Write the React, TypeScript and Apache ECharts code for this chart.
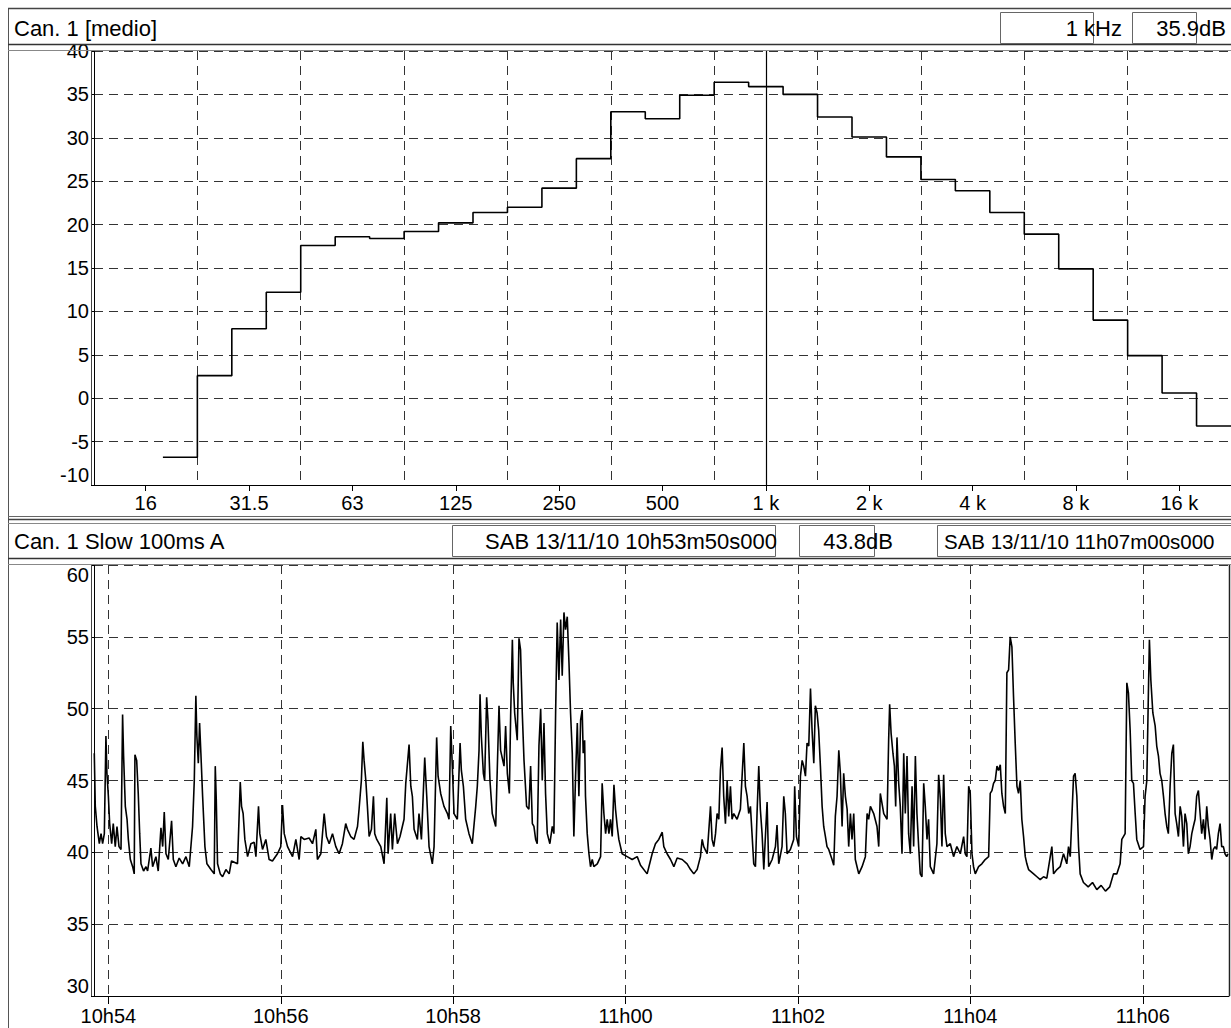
import React, { useEffect, useRef } from 'react';
import * as echarts from 'echarts';

// ---------- Spectrum (1/3 octave, Leq "medio") ----------
const bandNames = ['20', '25', '31.5', '40', '50', '63', '80', '100', '125', '160', '200', '250', '315', '400', '500', '630', '800', '1k', '1.25k', '1.6k', '2k', '2.5k', '3.15k', '4k', '5k', '6.3k', '8k', '10k', '12.5k', '16k', '20k'];
const bandLevels = [-6.8, 2.6, 8.0, 12.2, 17.6, 18.6, 18.4, 19.2, 20.2, 21.4, 22.0, 24.2, 27.6, 33.0, 32.2, 34.9, 36.4, 35.9, 35.0, 32.4, 30.1, 27.8, 25.2, 23.9, 21.4, 18.9, 14.9, 9.0, 4.9, 0.6, -3.2];
const freqTickOctaves = [-6, -5, -4, -3, -2, -1, 0, 1, 2, 3, 4];
const freqTickLabels = ['16', '31.5', '63', '125', '250', '500', '1 k', '2 k', '4 k', '8 k', '16 k'];
const cursorOctave = 0; // 1 kHz cursor

// ---------- Time history (Slow, A) : seconds after 10h53m50s ----------
const timeSec = [
  0.2, 0.9, 2.1, 3.7, 4.9, 6.0, 7.2, 8.3, 9.0, 10.0, 10.9, 12.3, 13.4, 14.8, 16.0, 17.4, 18.8, 19.9, 20.6, 21.8,
  23.0, 23.9, 25.3, 26.9, 28.0, 28.5, 29.7, 30.8, 31.8, 32.7, 34.5, 36.2, 37.3, 39.6, 40.8, 43.1, 44.7, 46.6, 47.8, 48.9,
  50.1, 51.7, 54.0, 55.2, 57.0, 59.3, 61.7, 64.0, 66.3, 68.6, 69.8, 70.9, 71.6, 72.6, 73.5, 74.4, 75.6, 77.2, 78.6, 81.4,
  83.7, 84.4, 85.1, 86.0, 87.9, 89.5, 91.8, 94.1, 95.7, 99.9, 101.8, 102.7, 103.8, 105.0, 106.9, 109.2, 111.5, 112.7, 114.5, 115.4,
  117.3, 119.6, 121.9, 124.2, 127.7, 130.0, 131.2, 132.4, 134.7, 138.2, 140.5, 142.8, 144.0, 146.3, 149.7, 152.1, 154.4, 155.5, 157.9, 160.2,
  161.8, 163.7, 166.0, 168.3, 170.6, 172.9, 175.2, 176.4, 178.7, 181.0, 183.4, 184.5, 186.1, 187.1, 188.0, 189.2, 190.3, 191.5, 193.1, 194.5,
  195.4, 196.8, 199.6, 201.9, 203.8, 204.7, 206.5, 207.7, 209.3, 211.2, 213.0, 215.8, 217.0, 219.3, 220.5, 221.6, 222.8, 225.1, 226.2, 227.9,
  230.2, 231.6, 233.2, 235.5, 236.7, 238.5, 239.5, 241.3, 243.6, 246.0, 247.1, 248.3, 249.4, 250.6, 252.9, 254.8, 255.7, 257.1, 258.7, 261.0,
  263.3, 265.7, 266.8, 268.0, 268.7, 269.6, 271.0, 271.9, 273.3, 274.2, 275.6, 277.2, 279.6, 281.9, 283.0, 285.4, 286.5, 287.7, 289.1, 290.0,
  291.2, 291.8, 292.8, 294.6, 295.8, 296.9, 298.1, 299.3, 301.1, 302.7, 303.9, 305.1, 306.2, 307.4, 308.5, 309.7, 310.9, 312.0, 313.2, 314.3,
  315.5, 317.3, 319.0, 320.1, 321.3, 322.4, 323.6, 324.8, 325.9, 327.1, 328.2, 329.4, 330.6, 331.7, 332.9, 334.0, 335.2, 336.4, 337.5, 338.7,
  339.8, 340.5, 341.5, 342.1, 343.3, 344.5, 345.6, 346.8, 347.9, 350.3, 352.6, 353.7, 354.9, 356.1, 357.2, 358.4, 359.5, 360.7, 361.9, 363.0,
  364.2, 365.3, 367.6, 371.1, 374.6, 378.1, 380.4, 385.0, 388.5, 390.8, 393.1, 395.5, 396.6, 398.9, 401.3, 403.6, 405.9, 409.4, 412.8, 415.2,
  417.5, 419.8, 422.1, 423.3, 424.4, 426.8, 429.1, 430.2, 431.4, 432.6, 433.7, 434.9, 436.0, 437.2, 438.3, 439.5, 440.7, 441.8, 443.0, 444.1,
  445.3, 447.6, 449.9, 452.3, 453.4, 454.6, 455.7, 456.9, 458.0, 459.2, 460.4, 461.5, 462.7, 463.8, 465.0, 466.2, 468.5, 469.6, 472.0, 474.3,
  475.4, 476.6, 478.9, 480.1, 481.2, 482.4, 484.7, 487.0, 487.7, 488.9, 490.5, 491.7, 492.9, 494.0, 495.2, 496.3, 497.5, 498.7, 499.8, 501.0,
  502.1, 503.3, 504.4, 505.6, 506.8, 507.9, 509.1, 510.2, 511.4, 513.7, 514.9, 516.0, 517.2, 518.4, 519.5, 520.7, 521.8, 523.0, 524.2, 525.3,
  526.5, 527.6, 528.8, 529.9, 531.1, 532.3, 534.6, 536.9, 538.1, 539.2, 540.4, 542.7, 545.0, 546.2, 547.3, 549.7, 552.0, 553.1, 553.8, 554.8,
  556.1, 557.1, 558.0, 558.9, 560.1, 561.2, 562.4, 563.6, 564.7, 565.9, 567.0, 568.2, 569.4, 570.5, 571.7, 572.8, 574.0, 575.1, 576.3, 577.5,
  578.6, 579.8, 580.9, 582.1, 584.4, 586.7, 587.9, 589.1, 590.2, 591.4, 592.5, 593.7, 596.0, 598.3, 600.6, 603.0, 605.3, 606.4, 607.6, 608.8,
  609.9, 611.1, 612.2, 613.4, 615.7, 618.0, 620.3, 622.7, 623.8, 625.0, 626.1, 627.3, 628.5, 629.6, 630.8, 631.9, 633.1, 634.3, 635.4, 636.6,
  637.7, 638.9, 640.0, 641.2, 642.4, 643.5, 644.7, 645.8, 647.0, 648.2, 649.3, 650.5, 654.0, 656.3, 658.6, 660.9, 663.2, 666.7, 667.9, 670.2,
  672.5, 674.8, 677.1, 678.3, 679.5, 681.8, 682.9, 684.1, 685.3, 686.4, 688.7, 692.0, 695.0, 698.0, 701.0, 704.0, 707.0, 709.6, 711.9, 714.2,
  715.4, 717.7, 718.9, 720.0, 721.2, 722.3, 723.5, 724.7, 725.8, 728.1, 730.5, 731.6, 732.8, 733.9, 734.6, 735.6, 737.0, 738.6, 739.7, 740.9,
  742.0, 743.2, 744.4, 745.5, 746.7, 747.8, 749.0, 750.2, 751.3, 752.5, 753.6, 754.8, 756.0, 757.1, 758.3, 759.4, 760.6, 761.7, 762.9, 764.1,
  765.2, 766.4, 767.5, 768.7, 769.9, 771.0, 772.2, 773.3, 774.5, 775.6, 776.8, 778.0, 779.1, 780.3, 781.4, 782.6, 783.8, 784.9, 786.1, 787.2,
  788.4, 789.3
];
const levelDb = [
  46.9, 43.2, 41.8, 40.6, 41.3, 40.6, 41.3, 48.1, 45.5, 43.9, 42.0, 40.6, 42.0, 40.4, 41.8, 40.4, 40.2, 49.6, 46.7, 43.2,
  42.3, 40.9, 39.5, 39.0, 38.5, 46.8, 46.4, 44.1, 41.3, 39.2, 38.7, 39.0, 38.7, 40.3, 39.0, 39.7, 38.7, 41.7, 40.4, 42.8,
  39.9, 39.5, 42.2, 39.5, 39.0, 39.6, 39.2, 39.7, 39.0, 41.8, 45.0, 50.9, 48.1, 46.2, 49.0, 46.9, 43.9, 40.4, 39.2, 38.8,
  38.5, 46.0, 43.7, 39.2, 38.5, 38.3, 38.8, 38.5, 39.4, 39.2, 44.9, 43.2, 42.7, 40.9, 39.7, 40.6, 40.7, 39.7, 43.2, 41.3,
  40.2, 40.9, 39.5, 39.4, 39.9, 40.4, 43.3, 41.3, 40.4, 39.7, 40.9, 39.5, 41.1, 40.9, 41.0, 40.6, 41.6, 39.5, 39.9, 42.7,
  41.1, 40.6, 41.3, 40.4, 39.9, 40.6, 42.0, 41.6, 41.1, 40.9, 41.8, 43.0, 45.0, 47.7, 46.4, 45.0, 43.2, 41.1, 41.6, 43.9,
  41.3, 40.9, 40.4, 39.2, 43.8, 39.9, 42.7, 40.2, 42.7, 40.6, 41.1, 42.3, 44.8, 47.5, 44.6, 43.9, 41.6, 40.9, 42.7, 40.9,
  46.6, 43.9, 40.4, 39.2, 40.4, 48.0, 45.3, 44.1, 43.2, 42.7, 42.3, 48.8, 46.0, 42.7, 42.3, 47.6, 45.7, 44.6, 42.3, 41.3,
  40.6, 43.2, 44.6, 47.1, 51.0, 48.1, 45.5, 45.0, 50.8, 49.2, 45.0, 42.7, 41.8, 50.2, 47.1, 46.0, 48.8, 45.5, 44.1, 49.5,
  54.8, 51.8, 49.7, 47.8, 54.9, 54.1, 49.7, 46.4, 43.2, 43.0, 46.0, 42.0, 41.8, 40.9, 40.6, 47.4, 50.0, 45.0, 49.0, 44.1,
  41.3, 40.6, 41.8, 41.3, 49.7, 56.0, 52.0, 56.2, 52.3, 56.7, 55.5, 56.4, 53.2, 49.7, 46.9, 41.1, 45.3, 49.0, 43.9, 49.2,
  49.9, 46.9, 47.8, 43.9, 41.3, 39.9, 39.0, 39.5, 39.0, 39.2, 39.7, 44.8, 42.7, 41.3, 42.3, 41.3, 42.3, 41.1, 44.7, 43.0,
  41.8, 40.9, 39.9, 39.7, 39.5, 39.7, 39.1, 38.5, 39.9, 40.6, 40.9, 41.4, 40.4, 39.9, 39.5, 39.0, 39.6, 39.5, 39.2, 38.8,
  38.5, 38.8, 39.7, 40.9, 40.4, 39.9, 43.2, 40.9, 40.4, 41.3, 42.7, 42.3, 45.7, 47.3, 43.9, 42.0, 45.0, 42.5, 44.6, 42.3,
  42.7, 42.3, 43.0, 47.6, 44.6, 43.9, 42.7, 43.2, 41.3, 39.2, 39.0, 42.7, 46.0, 43.0, 41.3, 38.8, 43.5, 39.0, 39.5, 40.4,
  41.9, 39.2, 40.4, 43.9, 42.7, 39.9, 40.2, 40.9, 44.6, 41.1, 40.4, 45.3, 46.4, 46.0, 45.3, 47.6, 47.4, 51.4, 48.5, 46.2,
  50.2, 49.7, 48.5, 46.0, 43.2, 41.8, 41.1, 40.4, 40.2, 39.5, 39.1, 42.5, 43.9, 47.1, 45.5, 41.8, 45.5, 43.9, 43.0, 40.4,
  42.7, 40.9, 42.7, 39.5, 39.0, 38.5, 39.0, 39.7, 42.7, 42.3, 43.2, 42.7, 41.8, 40.4, 44.1, 42.7, 42.3, 47.8, 50.3, 48.3,
  46.9, 46.0, 43.2, 48.0, 44.8, 43.2, 39.9, 46.9, 42.7, 46.7, 41.3, 39.9, 44.6, 40.4, 46.7, 42.7, 40.4, 38.5, 38.3, 44.8,
  43.2, 40.9, 42.3, 39.0, 38.5, 40.6, 45.4, 43.7, 40.4, 45.4, 41.3, 40.4, 40.6, 39.7, 40.4, 39.9, 41.1, 39.9, 39.7, 44.6,
  44.1, 39.9, 39.0, 38.5, 39.0, 39.2, 39.5, 39.7, 44.1, 44.3, 44.8, 45.0, 46.0, 45.7, 46.1, 44.1, 43.2, 42.7, 52.5, 52.7,
  55.0, 54.3, 50.9, 47.6, 44.6, 44.1, 45.0, 42.3, 41.1, 39.7, 39.2, 38.8, 38.5, 38.3, 38.1, 38.3, 38.2, 40.4, 38.5, 38.8,
  39.0, 39.9, 39.2, 40.4, 39.7, 45.3, 45.5, 43.9, 40.4, 38.5, 37.9, 37.6, 37.9, 37.4, 37.7, 37.3, 37.6, 38.5, 38.5, 39.2,
  40.9, 41.3, 51.8, 51.1, 48.5, 45.0, 44.8, 42.7, 40.9, 40.2, 40.4, 43.9, 45.0, 51.1, 54.8, 52.0, 49.7, 48.8, 47.4, 46.7,
  45.5, 45.0, 43.9, 42.7, 41.8, 41.3, 44.6, 46.9, 47.5, 42.7, 42.0, 41.1, 43.2, 42.5, 40.4, 42.7, 42.0, 39.9, 40.4, 41.3,
  41.8, 42.3, 43.9, 44.3, 42.7, 41.3, 42.3, 40.9, 43.2, 41.8, 40.9, 39.5, 40.2, 40.4, 40.2, 41.3, 42.0, 40.4, 40.4, 39.9,
  39.7, 39.9
];
const timeTickSec = [10, 130, 250, 370, 490, 610, 730];
const timeTickLabels = ['10h54', '10h56', '10h58', '11h00', '11h02', '11h04', '11h06'];

const FONT = '"Liberation Sans", Arial, Helvetica, sans-serif';
const GRID_COLOR = '#333';
const DASH = [9, 6];
const AXIS_FONT = 20;

export default function App() {
  const ref = useRef<HTMLDivElement>(null);

  useEffect(() => {
    const chart = echarts.init(ref.current as HTMLDivElement, null, { renderer: 'svg' });

    // band lower edges in octaves re 1 kHz (20 Hz band centre = -17/3 octave)
    const firstCentre = -17 / 3;
    const specData: number[][] = bandLevels.map((v, i) => [firstCentre + i / 3 - 1 / 6, v]);
    specData.push([firstCentre + (bandLevels.length - 1) / 3 + 1 / 6, bandLevels[bandLevels.length - 1]]);

    const timeData = timeSec.map((t, i) => [t, levelDb[i]]);

    const line = (x1: number, y1: number, x2: number, y2: number, stroke = '#555', w = 1) => ({
      type: 'line', silent: true, z: 10,
      shape: { x1, y1, x2, y2 },
      style: { stroke, lineWidth: w },
    });
    const box = (x: number, y: number, w: number, h: number) => ({
      type: 'rect', silent: true, z: 10,
      shape: { x: x + 0.5, y: y + 0.5, width: w, height: h },
      style: { fill: 'none', stroke: '#666', lineWidth: 1 },
    });
    const text = (x: number, y: number, s: string, align: string, size = 22) => ({
      type: 'text', silent: true, z: 11,
      x, y,
      style: { text: s, fontSize: size, fontFamily: FONT, fill: '#000', textAlign: align, textVerticalAlign: 'middle' },
    });

    const option: any = {
      animation: false,
      backgroundColor: '#fff',
      textStyle: { fontFamily: FONT },
      grid: [
        { left: 94, top: 51, width: 1137, height: 434 },
        { left: 94, top: 565, width: 1135, height: 431 },
      ],
      xAxis: [
        {
          type: 'value', gridIndex: 0, min: -6.5, max: 4.5, position: 'bottom',
          axisLine: { show: true, onZero: false, lineStyle: { color: '#000', width: 1 } },
          axisTick: { show: true, length: 6, customValues: freqTickOctaves, lineStyle: { color: '#000' } },
          axisLabel: {
            customValues: freqTickOctaves, color: '#000', fontSize: AXIS_FONT, fontFamily: FONT, margin: 8,
            formatter: (v: number) => {
              const i = freqTickOctaves.indexOf(Math.round(v));
              return i >= 0 ? freqTickLabels[i] : '';
            },
          },
          splitLine: { show: false },
        },
        {
          type: 'value', gridIndex: 0, min: -6.5, max: 4.5, interval: 1, position: 'bottom',
          axisLine: { show: false, onZero: false }, axisTick: { show: false }, axisLabel: { show: false },
          splitLine: { show: true, lineStyle: { color: GRID_COLOR, type: DASH, width: 1 } },
        },
        {
          type: 'value', gridIndex: 1, min: 0, max: 790, position: 'bottom',
          axisLine: { show: true, onZero: false, lineStyle: { color: '#000', width: 1 } },
          axisTick: { show: true, length: 8, customValues: timeTickSec, lineStyle: { color: '#000' } },
          axisLabel: {
            customValues: timeTickSec, color: '#000', fontSize: AXIS_FONT, fontFamily: FONT, margin: 10,
            formatter: (v: number) => {
              const i = timeTickSec.indexOf(Math.round(v));
              return i >= 0 ? timeTickLabels[i] : '';
            },
          },
          splitLine: { show: true, lineStyle: { color: GRID_COLOR, type: DASH, width: 1 } },
        },
      ],
      yAxis: [
        {
          type: 'value', gridIndex: 0, min: -10, max: 40, interval: 5,
          axisLine: { show: true, onZero: false, lineStyle: { color: '#000', width: 1 } },
          axisTick: { show: true, length: 3, lineStyle: { color: '#000' } },
          axisLabel: { color: '#000', fontSize: AXIS_FONT, fontFamily: FONT, margin: 5, verticalAlignMinLabel: 'bottom' },
          splitLine: { show: true, lineStyle: { color: GRID_COLOR, type: DASH, width: 1 } },
        },
        {
          type: 'value', gridIndex: 1, min: 30, max: 60, interval: 5,
          axisLine: { show: true, onZero: false, lineStyle: { color: '#000', width: 1 } },
          axisTick: { show: true, length: 3, lineStyle: { color: '#000' } },
          axisLabel: { color: '#000', fontSize: AXIS_FONT, fontFamily: FONT, margin: 5, verticalAlignMinLabel: 'bottom', verticalAlignMaxLabel: 'top' },
          splitLine: { show: true, lineStyle: { color: GRID_COLOR, type: DASH, width: 1 } },
        },
      ],
      series: [
        {
          name: 'Can. 1 [medio]', type: 'line', xAxisIndex: 0, yAxisIndex: 0,
          data: specData, step: 'end', symbol: 'none', silent: true,
          lineStyle: { color: '#000', width: 1.6 },
          markLine: {
            silent: true, symbol: 'none', label: { show: false },
            lineStyle: { color: '#000', type: 'solid', width: 1.2 },
            data: [{ xAxis: cursorOctave }],
          },
        },
        {
          name: 'Can. 1 Slow 100ms A', type: 'line', xAxisIndex: 2, yAxisIndex: 1,
          data: timeData, symbol: 'none', silent: true,
          lineStyle: { color: '#000', width: 1.6 },
        },
      ],
      graphic: [
        // outer frame / panel separators
        line(8.5, 8, 8.5, 1028, '#555'),
        line(8, 8.5, 1231, 8.5, '#444', 1.5),
        line(8, 44.5, 1231, 44.5, '#333', 1.5),
        line(8, 50.5, 1231, 50.5, '#888'),
        line(91.5, 51, 91.5, 485, '#444'),
        line(8, 516.5, 1231, 516.5, '#666'),
        line(8, 519.5, 1231, 519.5, '#444', 1.5),
        line(8, 523.5, 1231, 523.5, '#888'),
        line(8, 558.5, 1231, 558.5, '#333', 1.5),
        line(8, 564.5, 1231, 564.5, '#888'),
        line(91.5, 565, 91.5, 996, '#444'),
        line(1229.5, 565, 1229.5, 996, '#222', 1.5),
        // value boxes
        box(1000, 12, 93, 31),
        box(1132, 12, 64, 31),
        box(452, 525, 323, 31),
        box(799, 525, 75, 31),
        box(937, 525, 300, 31),
        // header texts
        text(14, 28, 'Can. 1 [medio]', 'left'),
        text(1122, 28, '1 kHz', 'right'),
        text(1226, 28, '35.9dB', 'right'),
        text(14, 541, 'Can. 1 Slow 100ms A', 'left'),
        text(777, 541, 'SAB 13/11/10 10h53m50s000', 'right'),
        text(893, 541, '43.8dB', 'right'),
        text(944, 541, 'SAB 13/11/10 11h07m00s000', 'left', 20.5),
      ],
    };

    chart.setOption(option);
    return () => chart.dispose();
  }, []);

  return <div ref={ref} style={{ position: 'absolute', left: 0, top: 0, width: 1231, height: 1028 }} />;
}
